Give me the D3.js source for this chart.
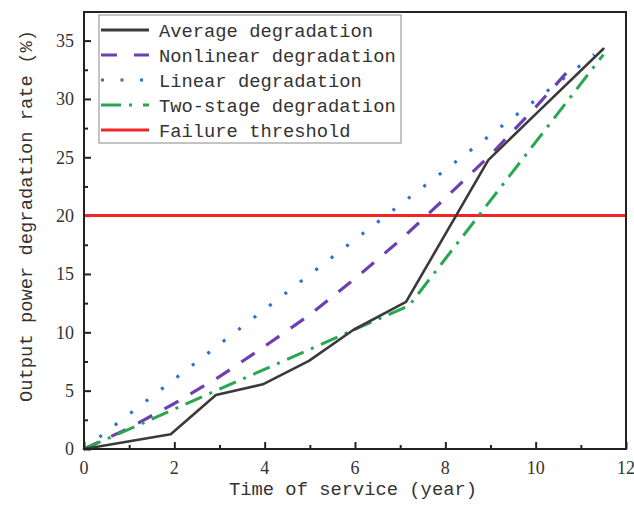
<!DOCTYPE html>
<html>
<head>
<meta charset="utf-8">
<script src="https://cdn.jsdelivr.net/npm/d3@7"></script>
<style>
  body { margin: 0; background: #fff; }
</style>
</head>
<body>
<svg></svg>
<script>
// series values: [year, rate %]
const averageData = [[0, 0], [1.92, 1.26], [2.92, 4.63], [3.96, 5.54], [4.98, 7.55], [5.96, 10.2], [7.13, 12.6], [8.95, 24.76], [10, 28.7], [11.5, 34.3]];
const nonlinearData = [[0, 0], [1, 1.8], [2, 3.9], [3, 6.2], [4, 8.8], [5, 11.5], [6, 14.6], [7, 17.9], [8, 21.5], [9, 25.2], [10, 29.3], [10.87, 33.05]];
const linearData = [[0, 0], [11.3, 33.8]];
const twoStageData = [[0, 0], [7.2, 12.3], [11.5, 33.8]];
const threshold = 20;

const legendLabels = ["Average degradation", "Nonlinear degradation", "Linear degradation", "Two-stage degradation", "Failure threshold"];
const xTicks = [0, 2, 4, 6, 8, 10, 12];
const yTicks = [0, 5, 10, 15, 20, 25, 30, 35];
const xMinorTicks = [1, 3, 5, 7, 9, 11];
const yMinorTicks = [2.5, 7.5, 12.5, 17.5, 22.5, 27.5, 32.5];

const drawChart = () => {
  let svgWidth = 634,
    svgHeight = 508;
  var margin = { top: 12, right: 8, bottom: 59, left: 84 };
  var width = svgWidth - margin.left - margin.right;
  var height = svgHeight - margin.top - margin.bottom;

  var svg = d3.select("svg").attr("width", svgWidth).attr("height", svgHeight);
  var g = svg
    .append("g")
    .attr("transform", "translate(" + margin.left + "," + margin.top + ")");

  var x = d3.scaleLinear().domain([0, 12]).range([0, width]);
  var y = d3.scaleLinear().domain([0, 37.45]).range([height, 0]);

  var line = d3
    .line()
    .x((d) => x(d[0]))
    .y((d) => y(d[1]));

  // ticks point inward, labels drawn separately
  g.append("g")
    .attr("transform", "translate(0," + height + ")")
    .call(d3.axisTop(x).tickValues(xTicks).tickSize(7).tickFormat(""));
  g.append("g")
    .attr("transform", "translate(0," + height + ")")
    .call(d3.axisTop(x).tickValues(xMinorTicks).tickSize(4).tickFormat(""));
  g.append("g")
    .call(d3.axisRight(y).tickValues(yTicks).tickSize(7).tickFormat(""));
  g.append("g")
    .call(d3.axisRight(y).tickValues(yMinorTicks).tickSize(4).tickFormat(""));
  g.selectAll(".domain").remove();
  g.selectAll(".tick line").attr("stroke", "#222").attr("stroke-width", 2);

  g.selectAll(".xlab")
    .data(xTicks)
    .enter()
    .append("text")
    .attr("x", (d) => x(d))
    .attr("y", height + 25)
    .attr("text-anchor", "middle")
    .attr("font-family", "Liberation Serif, serif")
    .attr("font-size", 18)
    .attr("fill", "#333")
    .text((d) => d);

  g.selectAll(".ylab")
    .data(yTicks)
    .enter()
    .append("text")
    .attr("x", -10)
    .attr("y", (d) => y(d))
    .attr("dy", "0.35em")
    .attr("text-anchor", "end")
    .attr("font-family", "Liberation Serif, serif")
    .attr("font-size", 18)
    .attr("fill", "#333")
    .text((d) => d);

  // threshold
  g.append("line")
    .attr("x1", 0)
    .attr("x2", width)
    .attr("y1", y(threshold))
    .attr("y2", y(threshold))
    .attr("stroke", "#f22525")
    .attr("stroke-width", 3);

  var series = [
    { data: linearData, color: "#2f6fcf", dash: "3,16.5", width: 3.2, cap: "butt" },
    { data: nonlinearData, color: "#6c40b5", dash: "16,14", width: 3.2, cap: "butt" },
    { data: twoStageData, color: "#27a84f", dash: "18,8,3,8", width: 3, cap: "butt" },
    { data: averageData, color: "#3a3a3a", dash: null, width: 2.6, cap: "round" },
  ];

  series.forEach((s) => {
    g.append("path")
      .datum(s.data)
      .attr("fill", "none")
      .attr("stroke", s.color)
      .attr("stroke-width", s.width)
      .attr("stroke-dasharray", s.dash)
      .attr("stroke-linejoin", "round")
      .attr("stroke-linecap", s.cap)
      .attr("d", line);
  });

  // frame
  g.append("rect")
    .attr("width", width)
    .attr("height", height)
    .attr("fill", "none")
    .attr("stroke", "#222")
    .attr("stroke-width", 2);

  // legend
  var legendItems = [
    { color: "#3a3a3a", dash: null },
    { color: "#6c40b5", dash: "16,17" },
    { color: "#2f6fcf", dash: "3,16.5" },
    { color: "#27a84f", dash: "20,8,3,11" },
    { color: "#f22525", dash: null },
  ];
  var legend = g.append("g").attr("transform", "translate(15,3)");
  legend.append("rect")
    .attr("width", 302)
    .attr("height", 128)
    .attr("fill", "#fff")
    .attr("stroke", "#888")
    .attr("stroke-width", 1);
  legendLabels.forEach((label, i) => {
    var row = legend.append("g").attr("transform", "translate(0," + (15 + i * 25) + ")");
    row.append("line")
      .attr("x1", 2)
      .attr("x2", 50)
      .attr("stroke", legendItems[i].color)
      .attr("stroke-width", 3)
      .attr("stroke-dasharray", legendItems[i].dash);
    row.append("text")
      .attr("x", 60)
      .attr("dy", "0.35em")
      .attr("font-family", "Liberation Mono, monospace")
      .attr("font-size", 18.8)
      .attr("fill", "#333")
      .text(label);
  });

  // axis titles
  svg.append("text")
    .attr("x", margin.left + width / 2 - 2)
    .attr("y", 495)
    .attr("text-anchor", "middle")
    .attr("font-family", "Liberation Mono, monospace")
    .attr("font-size", 18.8)
    .attr("fill", "#333")
    .text("Time of service (year)");

  svg.append("text")
    .attr("transform", "translate(32,216) rotate(-90)")
    .attr("text-anchor", "middle")
    .attr("font-family", "Liberation Mono, monospace")
    .attr("font-size", 18.8)
    .attr("fill", "#333")
    .text("Output power degradation rate (%)");
};

drawChart();
</script>
</body>
</html>
